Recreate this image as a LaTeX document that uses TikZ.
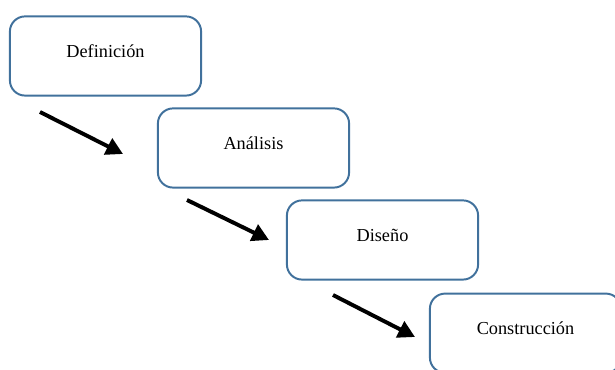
\documentclass[tikz,border=0pt]{standalone}
\usepackage{fontspec}
\setmainfont{Liberation Serif}
\usepackage{tikz}
\usetikzlibrary{arrows.meta,positioning,shapes}
\definecolor{fase}{RGB}{65,113,156}

\begin{document}
\begin{tikzpicture}[on grid,
   etapa/.style={draw=fase,line width=1.4pt,rounded corners=0.38cm,
     minimum width=4.78cm,minimum height=1.98cm,
     font=\fontsize{13}{15}\selectfont,text height=0.33cm,text depth=0.25cm},
   paso/.style={line width=2.8pt,-{Triangle[length=0.42cm,width=0.44cm]}}]
   \useasboundingbox (0,0) rectangle (15.375,-9.25);
   \node[etapa] (def) at (2.6375,-1.4) {Definición};
   \node[etapa] (ana) [below right=2.3cm and 3.7cm of def] {Análisis};
   \node[etapa] (dis) [below right=2.3cm and 3.225cm of ana] {Diseño};
   \node[etapa] (con) [below right=2.33cm and 3.575cm of dis] {Construcción};
   \coordinate (p1) at (1.0,-2.8);
   \coordinate (q1) at (3.075,-3.85);
   \coordinate (p2) at (4.675,-5.0);
   \coordinate (q2) at (6.725,-6.0);
   \coordinate (p3) at (8.325,-7.375);
   \coordinate (q3) at (10.375,-8.425);
    \draw[paso] (p1) -- (q1);
    \draw[paso] (p2) -- (q2);
    \draw[paso] (p3) -- (q3);
\end{tikzpicture}
\end{document}
